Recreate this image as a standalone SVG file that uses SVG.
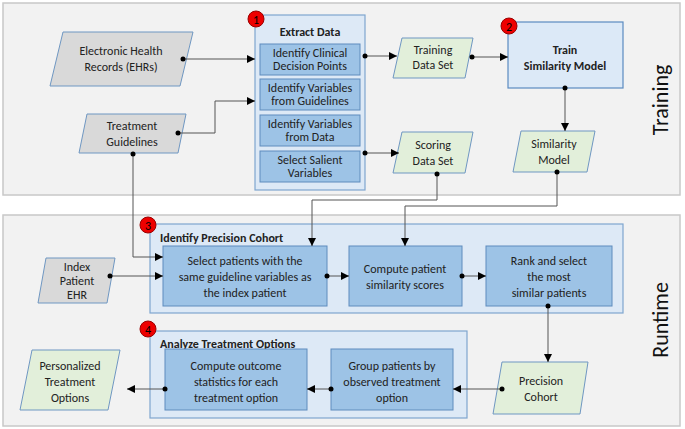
<svg xmlns="http://www.w3.org/2000/svg" width="685" height="429" viewBox="0 0 685 429">
<style>
text{font-family:Calibri,"Liberation Sans",Arial,sans-serif;font-size:12px;fill:#222;text-anchor:middle}
.panel{fill:#f2f2f2;stroke:#c8c8c8;stroke-width:1.5}
.cont{fill:#dde9f6;stroke:#7fa6cf;stroke-width:1.2}
.box{fill:#9dc3e6;stroke:#5f8cbd;stroke-width:1}
.grey{fill:#d9d9d9;stroke:#6f97c2;stroke-width:1}
.green{fill:#e2efda;stroke:#6f97c2;stroke-width:1}
.b{font-weight:bold}
.badge{fill:#e00;stroke:#900;stroke-width:1}
.bt{fill:#000;font-size:12px}
.c path{fill:none;stroke:#555;stroke-width:1}
.c circle{fill:#000}
.big{font-size:22px;fill:#111}
</style>
<defs><marker id="a" viewBox="0 0 10 10" refX="10" refY="5" markerWidth="8" markerHeight="8" orient="auto" markerUnits="userSpaceOnUse"><path d="M0,0L10,5L0,10z" fill="#000"/></marker></defs>
<rect class="panel" x="3" y="3" width="677" height="192"/>
<rect class="panel" x="3" y="215" width="677" height="211"/>
<text class="big" transform="translate(668,100) rotate(-90)">Training</text>
<text class="big" transform="translate(668,320) rotate(-90)">Runtime</text>
<g id="extract">
<rect class="cont" x="255" y="15" width="110" height="175"/>
<text class="b" x="310" y="36">Extract Data</text>
<rect class="box" x="260" y="44" width="100" height="31"/><text x="310" y="57">Identify Clinical</text><text x="310" y="70">Decision Points</text>
<rect class="box" x="260" y="79" width="100" height="31"/><text x="310" y="92">Identify Variables</text><text x="310" y="105">from Guidelines</text>
<rect class="box" x="260" y="115" width="100" height="31"/><text x="310" y="128">Identify Variables</text><text x="310" y="141">from Data</text>
<rect class="box" x="260" y="151" width="100" height="31"/><text x="310" y="164">Select Salient</text><text x="310" y="177">Variables</text>
<circle class="badge" cx="256" cy="19" r="8"/><text class="bt" x="256" y="23.5">1</text>
</g>
<g id="ehr"><polygon class="grey" points="63,32 193,32 180,86 50,86"/><text x="121" y="55">Electronic Health</text><text x="121" y="71">Records (EHRs)</text></g>
<g id="guidelines"><polygon class="grey" points="87,114 186,114 178,153 79,153"/><text x="132" y="130">Treatment</text><text x="132" y="146">Guidelines</text></g>
<g id="trainset"><polygon class="green" points="402,38 473,38 465,78 393,78"/><text x="433" y="54">Training</text><text x="433" y="69">Data Set</text></g>
<g id="train"><rect x="508" y="22" width="115" height="66" fill="#dce9f7" stroke="#5b8bc0" stroke-width="1.2"/><text class="b" x="565" y="54">Train</text><text class="b" x="565" y="70">Similarity Model</text><circle class="badge" cx="509" cy="26" r="8"/><text class="bt" x="509" y="30.5">2</text></g>
<g id="scoreset"><polygon class="green" points="402,132 473,132 465,173 393,173"/><text x="433" y="149">Scoring</text><text x="433" y="165">Data Set</text></g>
<g id="simmodel"><polygon class="green" points="521,131 595,131 587,172 513,172"/><text x="554" y="148">Similarity</text><text x="554" y="164">Model</text></g>
<g id="cohort">
<rect class="cont" x="150" y="224" width="473" height="89"/>
<text class="b" x="160" y="242" style="text-anchor:start">Identify Precision Cohort</text>
<rect class="box" x="163" y="246" width="164" height="60"/><text x="245" y="265">Select patients with the</text><text x="245" y="281">same guideline variables as</text><text x="245" y="297">the index patient</text>
<rect class="box" x="349" y="246" width="113" height="60"/><text x="405" y="273">Compute patient</text><text x="405" y="289">similarity scores</text>
<rect class="box" x="486" y="246" width="126" height="60"/><text x="549" y="265">Rank and select</text><text x="549" y="281">the most</text><text x="549" y="297">similar patients</text>
<circle class="badge" cx="148" cy="225" r="8"/><text class="bt" x="148" y="229.5">3</text>
</g>
<g id="index"><polygon class="grey" points="46,258 115,258 107,303 38,303"/><text x="77" y="271">Index</text><text x="77" y="285">Patient</text><text x="77" y="299">EHR</text></g>
<g id="analyze">
<rect class="cont" x="150" y="331" width="317" height="87"/>
<text class="b" x="160" y="348" style="text-anchor:start">Analyze Treatment Options</text>
<rect class="box" x="165" y="349" width="142" height="61"/><text x="236" y="370">Compute outcome</text><text x="236" y="386">statistics for each</text><text x="236" y="402">treatment option</text>
<rect class="box" x="331" y="349" width="122" height="61"/><text x="392" y="370">Group patients by</text><text x="392" y="386">observed treatment</text><text x="392" y="402">option</text>
<circle class="badge" cx="148" cy="329" r="8"/><text class="bt" x="148" y="333.5">4</text>
</g>
<g id="personalized"><polygon class="green" points="32,350 120,350 108,410 20,410"/><text x="70" y="370">Personalized</text><text x="70" y="386">Treatment</text><text x="70" y="402">Options</text></g>
<g id="precision"><polygon class="green" points="502,362 588,362 580,414 493,414"/><text x="541" y="385">Precision</text><text x="541" y="401">Cohort</text></g>
<g class="c" id="connectors">
<path d="M183,59H255" marker-end="url(#a)"/><circle cx="183" cy="59" r="2.5"/>
<path d="M178,133H215V101H255" marker-end="url(#a)"/><circle cx="178" cy="133" r="2.5"/>
<path d="M133,154V257H163" marker-end="url(#a)"/><circle cx="133" cy="154" r="2.5"/>
<path d="M365,56H397" marker-end="url(#a)"/><circle cx="365" cy="56" r="2.5"/>
<path d="M472,57H508" marker-end="url(#a)"/><circle cx="472" cy="57" r="2.5"/>
<path d="M365,153H399" marker-end="url(#a)"/><circle cx="365" cy="153" r="2.5"/>
<path d="M565,88V131" marker-end="url(#a)"/><circle cx="565" cy="88" r="2.5"/>
<path d="M437,174V200H312V246" marker-end="url(#a)"/><circle cx="437" cy="174" r="2.5"/>
<path d="M557,172V206H405V246" marker-end="url(#a)"/><circle cx="557" cy="172" r="2.5"/>
<path d="M110,276H163" marker-end="url(#a)"/><circle cx="110" cy="276" r="2.5"/>
<path d="M327,276H349" marker-end="url(#a)"/><circle cx="327" cy="276" r="2.5"/>
<path d="M462,276H486" marker-end="url(#a)"/><circle cx="462" cy="276" r="2.5"/>
<path d="M548,306V362" marker-end="url(#a)"/><circle cx="548" cy="306" r="2.5"/>
<path d="M502,389H453" marker-end="url(#a)"/><circle cx="502" cy="389" r="2.5"/>
<path d="M331,389H307" marker-end="url(#a)"/><circle cx="331" cy="389" r="2.5"/>
<path d="M165,389H127" marker-end="url(#a)"/><circle cx="165" cy="389" r="2.5"/>
</g>
</svg>
